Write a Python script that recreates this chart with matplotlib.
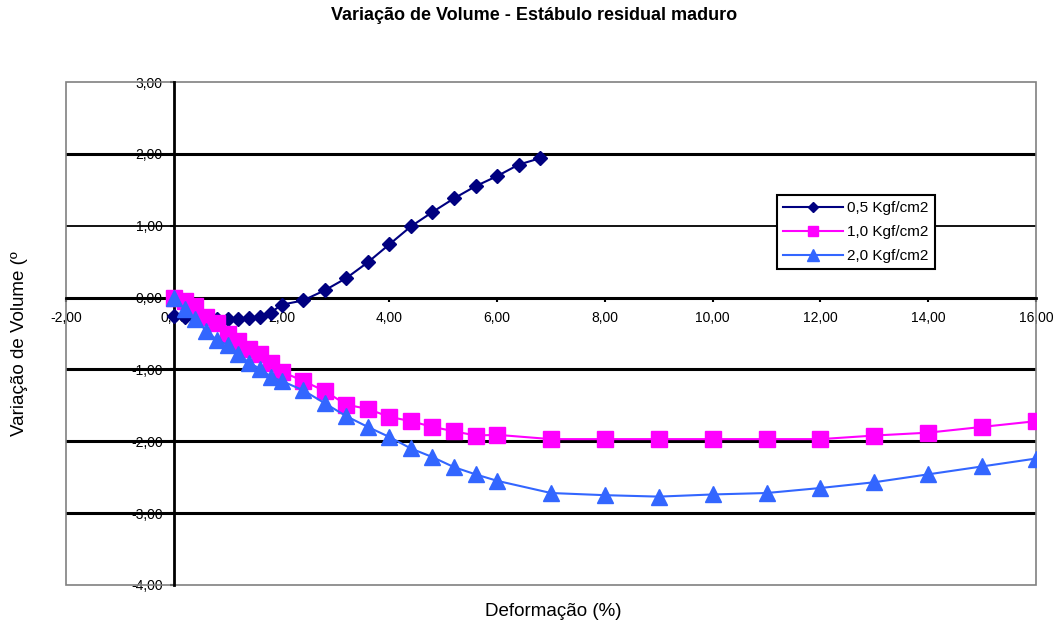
import numpy as np
import matplotlib
matplotlib.use("Agg")
import matplotlib.pyplot as plt
from matplotlib.patches import Rectangle
from matplotlib.ticker import FuncFormatter

plt.rcParams['font.family'] = ['Liberation Sans', 'DejaVu Sans']

# Deformation (%) and volume change readings for each confining pressure
x_05 = [0.0, 0.2, 0.4, 0.6, 0.8, 1.0, 1.2, 1.4, 1.6, 1.8, 2.0,
        2.4, 2.8, 3.2, 3.6, 4.0, 4.4, 4.8, 5.2, 5.6, 6.0, 6.4, 6.8]
y_05 = [-0.25, -0.27, -0.28, -0.30, -0.30, -0.30, -0.30, -0.29, -0.27, -0.21, -0.10,
        -0.04, 0.10, 0.27, 0.49, 0.74, 0.99, 1.19, 1.38, 1.55, 1.69, 1.85, 1.94]

x_10 = [0.0, 0.2, 0.4, 0.6, 0.8, 1.0, 1.2, 1.4, 1.6, 1.8, 2.0,
        2.4, 2.8, 3.2, 3.6, 4.0, 4.4, 4.8, 5.2, 5.6, 6.0,
        7.0, 8.0, 9.0, 10.0, 11.0, 12.0, 13.0, 14.0, 15.0, 16.0]
y_10 = [0.00, -0.05, -0.12, -0.27, -0.36, -0.50, -0.60, -0.71, -0.79, -0.91, -1.03,
        -1.16, -1.30, -1.49, -1.55, -1.66, -1.72, -1.80, -1.86, -1.92, -1.91,
        -1.97, -1.97, -1.97, -1.97, -1.97, -1.97, -1.92, -1.88, -1.80, -1.72]

x_20 = x_10
y_20 = [0.00, -0.16, -0.30, -0.46, -0.59, -0.66, -0.78, -0.91, -0.99, -1.10, -1.16,
        -1.29, -1.47, -1.65, -1.80, -1.94, -2.10, -2.22, -2.36, -2.46, -2.55,
        -2.72, -2.75, -2.77, -2.74, -2.72, -2.65, -2.57, -2.46, -2.35, -2.24]

labels = ['0,5 Kgf/cm2', '1,0 Kgf/cm2', '2,0 Kgf/cm2']
xticks = np.arange(-2, 17, 2)
yticks = np.arange(-4, 4, 1)


def comma(v, pos=None):
    return f"{v:.2f}".replace('.', ',')


fig = plt.figure(figsize=(10.58, 6.30), dpi=100)
ax = fig.add_axes([66 / 1058, 1 - 585 / 630, 970 / 1058, 503 / 630])

ax.plot(x_05, y_05, color='#000080', lw=1.5, marker='D', ms=7,
        mec='#000080', mfc='#000080', label=labels[0], zorder=3)
ax.plot(x_10, y_10, color='#FF00FF', lw=1.5, marker='s', ms=11,
        mec='#FF00FF', mfc='#FF00FF', label=labels[1], zorder=3)
ax.plot(x_20, y_20, color='#3366FF', lw=1.5, marker='^', ms=11.5,
        mec='#3366FF', mfc='#3366FF', label=labels[2], zorder=3)

ax.set_xlim(-2, 16)
ax.set_ylim(-4, 3)
ax.set_xticks(xticks)
ax.set_yticks(yticks)
ax.xaxis.set_major_formatter(FuncFormatter(comma))
ax.yaxis.set_major_formatter(FuncFormatter(comma))

# axes cross at the origin, like the Excel chart
for side in ['top', 'right']:
    ax.spines[side].set_visible(False)
ax.spines['left'].set_position(('data', 0))
ax.spines['bottom'].set_position(('data', 0))
for side in ['left', 'bottom']:
    ax.spines[side].set_linewidth(2)
    ax.spines[side].set_color('black')
    ax.spines[side].set_zorder(1.5)

# grey plot-area frame
ax.add_patch(Rectangle((0, 0), 1, 1, transform=ax.transAxes, fill=False,
                       edgecolor='#808080', lw=1.2, zorder=1, clip_on=False))

ax.set_axisbelow(True)
ax.yaxis.grid(True, color='black')
for line, v in zip(ax.get_ygridlines(), yticks):
    if v in (3, -4):
        line.set_visible(False)
    elif v == 1:
        line.set_linewidth(1.3)
    else:
        line.set_linewidth(2.2)

ax.tick_params(axis='both', labelsize=10, colors='black', width=1.5,
               length=3, direction='out')
ax.tick_params(axis='y', pad=5)
ax.tick_params(axis='x', pad=7)

leg = ax.legend(loc='upper left', bbox_to_anchor=(0.733, 0.775), borderaxespad=0,
                fontsize=11, handlelength=3.9, handletextpad=0.3, borderpad=0.4,
                labelspacing=0.65, markerscale=0.7, fancybox=False, framealpha=1)
leg.get_frame().set_edgecolor('black')
leg.get_frame().set_linewidth(1.5)

fig.text(534 / 1058, 1 - 15 / 630, 'Variação de Volume - Estábulo residual maduro',
         ha='center', va='center', fontsize=13, fontweight='bold')
fig.text(553 / 1058, 1 - 612 / 630, 'Deformação (%)', ha='center', va='center',
         fontsize=13.5)
fig.text(20 / 1058, 1 - 344 / 630, 'Variação de Volume (º', ha='center', va='center',
         rotation=90, fontsize=13.5)

fig.savefig('out.png', dpi=100)
